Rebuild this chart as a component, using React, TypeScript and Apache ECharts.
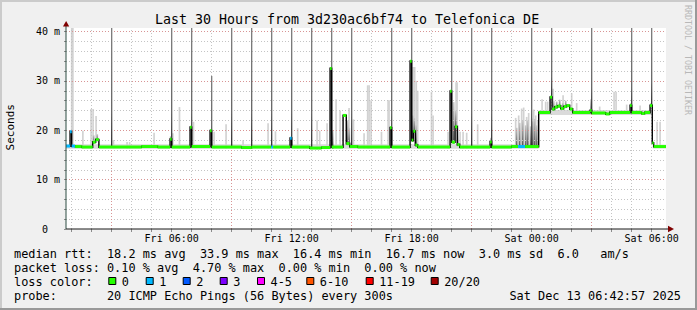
import React, { useEffect, useRef } from "react";
import * as echarts from "echarts";

// ---------- data ----------
const titleText = "Last 30 Hours from 3d230ac6bf74 to Telefonica DE";
const yAxisName = "Seconds";
const watermark = "RRDTOOL / TOBI OETIKER";

// time axis: hours since Fri 00:00 ; window Fri 00:43 .. Sat 06:43
const START_H = 0.716;
const END_H = 30.716;
const STEP_H = 1 / 12; // 300 s probe step
const Y_TOP = 40.71;

const xLabelHours = [6, 12, 18, 24, 30];
const xLabelTexts = ["Fri 06:00", "Fri 12:00", "Fri 18:00", "Sat 00:00", "Sat 06:00"];
const xTickHours = [1, 2, 3, 4, 5, 6, 7, 8, 9, 10, 11, 12, 13, 14, 15, 16, 17, 18, 19, 20, 21, 22, 23, 24, 25, 26, 27, 28, 29, 30];
const majorGridHours = [3, 9, 15, 21, 27];
const minorGridHours = [1, 2, 4, 5, 6, 7, 8, 10, 11, 12, 13, 14, 16, 17, 18, 19, 20, 22, 23, 24, 25, 26, 28, 29, 30];
const yLabelValues = [0, 10, 20, 30, 40];
const yTickValues = [0, 2, 4, 6, 8, 10, 12, 14, 16, 18, 20, 22, 24, 26, 28, 30, 32, 34, 36, 38, 40];
const yMajorGrid = [10, 20, 30, 40];
const yMinorGrid = [2, 4, 6, 8, 12, 14, 16, 18, 22, 24, 26, 28, 32, 34, 36, 38];

// median rtt: [hour from which it applies, ms, lost pings]
const medianSteps: number[][] = [
  [0.716, 16.8, 1], [0.92, 19.7, 1], [1.0, 16.8, 1], [1.17, 16.7, 0], [1.5, 16.6, 0],
  [2.05, 17.6, 0], [2.2, 18.1, 0], [2.36, 16.6, 0], [4.5, 16.7, 0], [5.3, 16.6, 0],
  [5.92, 18.2, 0], [6.0, 16.6, 0], [6.92, 20.6, 0], [7.0, 16.7, 0], [7.92, 19.9, 0],
  [8.0, 16.6, 0], [9.5, 16.5, 0], [10.0, 16.6, 0], [10.98, 16.6, 1], [11.07, 16.6, 0],
  [11.92, 18.4, 1], [12.0, 16.6, 0], [12.9, 16.4, 0], [13.5, 16.5, 0], [13.92, 32.5, 0],
  [14.0, 16.6, 0], [14.57, 23.0, 0], [14.73, 17.3, 0], [14.9, 16.7, 0], [15.3, 16.6, 0],
  [16.92, 20.5, 0], [17.0, 16.6, 0], [17.92, 34.0, 0], [18.0, 18.0, 0], [18.08, 19.8, 0],
  [18.18, 17.0, 0], [18.3, 16.6, 0], [19.92, 27.9, 0], [20.0, 17.6, 0], [20.17, 20.7, 0],
  [20.28, 17.1, 0], [20.4, 16.6, 0], [21.92, 17.6, 0], [22.0, 16.6, 0], [23.0, 16.7, 0],
  [23.32, 16.7, 1], [23.67, 16.7, 0], [24.35, 23.6, 0], [24.92, 26.7, 0], [25.02, 24.3, 0],
  [25.15, 24.7, 0], [25.3, 24.9, 0], [25.45, 24.4, 0], [25.6, 24.8, 0], [25.75, 25.0, 0],
  [25.9, 24.3, 0], [26.05, 23.6, 0], [26.92, 24.0, 0], [27.0, 23.5, 0], [27.7, 23.3, 0],
  [27.9, 23.6, 0], [28.92, 25.0, 0], [29.0, 23.6, 0], [29.5, 23.4, 0], [29.65, 23.6, 0],
  [29.92, 25.0, 0], [30.03, 17.4, 0], [30.1, 16.7, 0],
];

// hourly latency spikes: [hour, highest ping ms]
const hourlySpikes: number[][] = [
  [3, 45], [6, 45], [7, 45], [8, 31], [9, 45], [10, 45], [11, 45], [12, 45], [13, 45],
  [14, 45], [15, 45], [17, 45], [18, 45], [20, 45], [21, 45], [22, 45], [24, 45], [25, 45],
  [27, 45], [29, 45], [30, 45],
];

// faint outer smoke: [hour, ms]
const lightSmoke: number[][] = [
  [1.0, 45], [1.06, 45], [1.56, 19.9], [1.97, 24.3], [2.07, 24.3], [2.22, 22.9], [3.09, 18.0],
  [3.77, 17.6], [3.9, 17.6], [5.12, 19.5], [6.06, 19.4], [6.39, 24.7], [7.09, 21.7], [8.12, 19.7],
  [8.72, 21.2], [9.57, 18.0], [10.82, 21.4], [11.19, 19.8], [12.3, 20.4], [13.27, 22.0],
  [13.4, 19.9], [13.77, 21.4], [14.22, 26.3], [14.42, 24.0], [14.87, 24.5], [15.09, 22.2],
  [15.62, 19.4], [15.8, 29.1], [15.87, 29.1], [15.97, 26.1], [16.49, 19.7], [16.82, 26.1],
  [16.87, 26.1], [18.07, 32.8], [18.15, 32.8], [18.23, 30.0], [18.3, 28.0], [18.99, 27.8],
  [19.07, 23.0], [19.82, 19.7], [19.92, 19.7], [20.22, 29.7], [20.27, 29.7], [20.42, 19.7],
  [20.57, 19.7], [20.75, 19.5], [21.3, 21.2], [23.2, 22.5], [23.35, 23.0], [23.5, 24.4],
  [23.6, 24.6], [23.75, 22.7], [23.85, 23.5], [24.0, 22.4], [24.1, 24.2], [24.2, 23.0],
  [24.3, 22.0], [24.52, 26.3], [24.7, 25.8], [24.8, 25.8], [25.07, 28.4], [25.57, 27.1],
  [26.0, 27.5], [26.25, 25.5], [27.4, 24.8], [28.12, 27.8], [28.22, 27.8], [28.75, 25.2],
  [29.42, 25.0], [30.27, 21.7], [30.42, 21.7],
];

// dense inner smoke: [hour, ms]
const darkSmoke: number[][] = [
  [0.95, 19.5], [2.1, 19.0], [2.28, 19.2], [5.95, 18.8], [6.95, 20.0], [7.95, 19.8],
  [11.95, 18.6], [13.95, 21.0], [14.05, 20.0], [14.65, 21.5], [14.8, 22.0], [14.88, 20.5],
  [16.95, 19.5], [17.97, 25.0], [18.05, 23.0], [18.13, 22.5], [18.22, 21.0], [19.97, 24.0],
  [20.1, 25.7], [20.2, 24.0], [20.3, 21.0], [21.97, 18.5], [23.25, 20.5], [23.4, 21.5],
  [23.55, 22.0], [23.7, 21.0], [23.8, 22.0], [23.95, 20.8], [24.05, 21.8], [24.15, 22.3],
  [24.25, 21.0], [24.97, 26.5], [25.1, 26.0], [25.25, 25.8], [25.4, 26.2], [25.55, 25.5],
  [25.7, 26.0], [25.85, 25.2], [26.97, 26.3], [28.97, 25.5], [29.97, 25.5],
];

// thin smoke band around the median: [hour from, low ms, high ms]
const smokeFloor: number[][] = [
  [0.716, 16.25, 17.15], [24.35, 23.1, 24.1], [30.05, 16.3, 17.1],
];

const rttLegend = ["median rtt:", "18.2 ms avg", "33.9 ms max", "16.4 ms min", "16.7 ms now", "3.0 ms sd", "6.0", "am/s"];
const rttCols = [0, 13, 26, 39, 52, 65, 76, 82];
const lossLegend = ["packet loss:", "0.10 % avg", "4.70 % max", "0.00 % min", "0.00 % now"];
const lossCols = [0, 13, 25, 37, 49];
const lossColorTitle = "loss color:";
const lossColorLabels = ["0", "1", "2", "3", "4-5", "6-10", "11-19", "20/20"];
const lossColors = ["#26ff00", "#00b8ff", "#0059ff", "#7e00ff", "#ff00ff", "#ff5500", "#ff0000", "#a10000"];
const probeTitle = "probe:";
const probeText = "20 ICMP Echo Pings (56 Bytes) every 300s";
const dateText = "Sat Dec 13 06:42:57 2025";

// ---------- helpers ----------
function medianAt(h: number): number {
  let v = medianSteps[0][1];
  for (const s of medianSteps) {
    if (s[0] <= h + 1e-9) v = s[1];
    else break;
  }
  return v;
}
function lossColorFor(n: number): string {
  if (n <= 0) return lossColors[0];
  if (n <= 3) return lossColors[n];
  if (n <= 5) return lossColors[4];
  if (n <= 10) return lossColors[5];
  if (n <= 19) return lossColors[6];
  return lossColors[7];
}

const FONT = '"DejaVu Sans Mono", monospace';
const LEG_X0 = 14;
const CW = 7.15;
const boxX = [108.3, 145.7, 182.7, 219.7, 257, 306.3, 365.7, 430.7];
const rowY = [254.3, 268.3, 282.3, 296.3];

export default function App() {
  const ref = useRef<HTMLDivElement>(null);
  useEffect(() => {
    const chart = echarts.init(ref.current as HTMLDivElement, null, { renderer: "svg" });

    const medianData = medianSteps.map((s, i) => {
      const next = i + 1 < medianSteps.length ? medianSteps[i + 1][0] : END_H;
      const prev = i > 0 ? medianSteps[i - 1][1] : s[1];
      return [s[0], next, s[1], prev, s[2]];
    });
    const floorData = smokeFloor.map((s, i) => {
      const next = i + 1 < smokeFloor.length ? smokeFloor[i + 1][0] : END_H;
      return [s[0], next, s[1], s[2]];
    });

    const minorStyle = { color: "#c4c4c4", width: 1, type: [1, 2] };
    const majorStyle = { color: "#d89494", width: 1, type: [1, 2] };
    const gridLineData: any[] = [
      ...minorGridHours.map((h) => ({ xAxis: h, lineStyle: minorStyle })),
      ...yMinorGrid.map((v) => ({ yAxis: v, lineStyle: minorStyle })),
      ...majorGridHours.map((h) => ({ xAxis: h, lineStyle: majorStyle })),
      ...yMajorGrid.map((v) => ({ yAxis: v, lineStyle: majorStyle })),
    ];

    const hairRender = (fill: any) => (params: any, api: any) => {
      const h = api.value(0);
      const top = Math.min(api.value(1), Y_TOP);
      const x0 = api.coord([h - STEP_H / 2, 0])[0];
      const x1 = api.coord([h + STEP_H / 2, 0])[0];
      const yT = api.coord([h, top])[1];
      const yB = api.coord([h, medianAt(h) - 0.3])[1];
      return {
        type: "rect",
        shape: { x: x0, y: yT, width: x1 - x0, height: Math.max(0, yB - yT) },
        style: { fill: typeof fill === "function" ? fill() : fill },
      };
    };

    const texts: any[] = [];
    const addText = (text: string, x: number, y: number, size: number, extra: any = {}) => {
      texts.push({
        type: "text",
        x,
        y,
        z: 100,
        rotation: extra.rotation || 0,
        style: {
          text,
          font: `${size}px ${FONT}`,
          fill: extra.fill || "#000",
          align: extra.align || "left",
          verticalAlign: "middle",
          textAlign: extra.align || "left",
          textVerticalAlign: "middle",
        },
      });
    };
    addText(titleText, 347, 19.5, 13.3, { align: "center" });
    addText(yAxisName, 10.5, 127.3, 11, { align: "center", rotation: Math.PI / 2 });
    addText(watermark, 688, 60, 8.3, { align: "center", rotation: -Math.PI / 2, fill: "#b8b8b8" });
    rttLegend.forEach((t, i) => addText(t, LEG_X0 + rttCols[i] * CW, rowY[0], 11.88));
    lossLegend.forEach((t, i) => addText(t, LEG_X0 + lossCols[i] * CW, rowY[1], 11.88));
    addText(lossColorTitle, LEG_X0, rowY[2], 11.88);
    lossColorLabels.forEach((t, i) => addText(t, boxX[i] + 13.5, rowY[2], 11.88));
    addText(probeTitle, LEG_X0, rowY[3], 11.88);
    addText(probeText, LEG_X0 + 13 * CW, rowY[3], 11.88);
    addText(dateText, 681, rowY[3], 11.88, { align: "right" });

    const boxes = lossColors.map((c, i) => ({
      type: "rect",
      z: 100,
      shape: { x: boxX[i] + 0.5, y: 277.5, width: 7, height: 7 },
      style: { fill: c, stroke: "#000", lineWidth: 1 },
    }));

    const frame = [
      { type: "rect", z: 100, shape: { x: 0, y: 0, width: 697, height: 2 }, style: { fill: "#cbcbcb" } },
      { type: "rect", z: 100, shape: { x: 0, y: 0, width: 2, height: 310 }, style: { fill: "#cbcbcb" } },
      { type: "rect", z: 100, shape: { x: 0, y: 308, width: 697, height: 2 }, style: { fill: "#999999" } },
      { type: "rect", z: 100, shape: { x: 695, y: 0, width: 2, height: 310 }, style: { fill: "#999999" } },
    ];
    const axes = [
      { type: "line", z: 100, shape: { x1: 66, y1: 229, x2: 66, y2: 24 }, style: { stroke: "#2c4d43", lineWidth: 1 } },
      { type: "polygon", z: 100, shape: { points: [[63, 26.5], [69.2, 26.5], [66.1, 21]] }, style: { fill: "#7f0000" } },
      { type: "line", z: 100, shape: { x1: 66, y1: 229, x2: 669, y2: 229 }, style: { stroke: "#1a1a1a", lineWidth: 1.2 } },
      { type: "polygon", z: 100, shape: { points: [[668, 225.8], [668, 232.2], [674, 229]] }, style: { fill: "#7f0000" } },
    ];

    const option: any = {
      animation: false,
      backgroundColor: "#f0f0f0",
      grid: { left: 66, top: 28, width: 600, height: 201, show: true, backgroundColor: "#ffffff", borderWidth: 0 },
      xAxis: {
        type: "value",
        min: START_H,
        max: END_H,
        axisLine: { show: false },
        splitLine: { show: false },
        axisTick: { show: true, customValues: xTickHours, length: 3, lineStyle: { color: "#8c8c8c" } },
        axisLabel: {
          show: true,
          customValues: xLabelHours,
          formatter: (v: number) => {
            const i = xLabelHours.indexOf(Math.round(v));
            return i >= 0 ? xLabelTexts[i] : "";
          },
          fontFamily: FONT,
          fontSize: 10,
          color: "#000",
          margin: 4,
        },
      },
      yAxis: {
        type: "value",
        min: 0,
        max: Y_TOP,
        axisLine: { show: false },
        splitLine: { show: false },
        axisTick: { show: true, customValues: yTickValues, length: 2, lineStyle: { color: "#8c8c8c" } },
        axisLabel: {
          show: true,
          customValues: yLabelValues,
          formatter: (v: number) => (v === 0 ? "{z|0}" : `${v} m`),
          rich: { z: { padding: [0, 12, 0, 0], fontFamily: FONT, fontSize: 10, color: "#000" } },
          fontFamily: FONT,
          fontSize: 10,
          color: "#000",
          margin: 6,
        },
      },
      series: [
        {
          type: "line",
          z: 1,
          silent: true,
          data: [],
          markLine: { silent: true, symbol: ["none", "none"], label: { show: false }, emphasis: { disabled: true }, data: gridLineData },
        },
        {
          type: "custom",
          z: 2,
          silent: true,
          clip: true,
          data: floorData,
          encode: { x: [0, 1], y: [2, 3] },
          renderItem: (params: any, api: any) => {
            const a = api.coord([api.value(0), api.value(3)]);
            const b = api.coord([api.value(1), api.value(2)]);
            return { type: "rect", shape: { x: a[0], y: a[1], width: b[0] - a[0], height: b[1] - a[1] }, style: { fill: "#dadada" } };
          },
        },
        {
          type: "custom",
          z: 3,
          silent: true,
          clip: true,
          data: lightSmoke,
          encode: { x: 0, y: 1 },
          renderItem: hairRender("#d2d2d2"),
        },
        {
          type: "custom",
          z: 4,
          silent: true,
          clip: true,
          data: darkSmoke,
          encode: { x: 0, y: 1 },
          renderItem: hairRender(
            () =>
              new echarts.graphic.LinearGradient(0, 0, 0, 1, [
                { offset: 0, color: "#c8c8c8" },
                { offset: 0.5, color: "#8e8e8e" },
                { offset: 1, color: "#4a4a4a" },
              ])
          ),
        },
        {
          type: "custom",
          z: 5,
          silent: true,
          clip: true,
          data: hourlySpikes,
          encode: { x: 0, y: 1 },
          renderItem: (params: any, api: any) => {
            const h = api.value(0);
            const top = Math.min(api.value(1), Y_TOP);
            const xm = api.coord([h, 0])[0];
            const yT = api.coord([h, top])[1];
            const yB = api.coord([h, medianAt(h)])[1];
            return {
              type: "rect",
              shape: { x: xm - 0.65, y: yT, width: 1.3, height: Math.max(0, yB - yT) },
              style: {
                fill: new echarts.graphic.LinearGradient(0, 0, 0, 1, [
                  { offset: 0, color: "#7c7c7c" },
                  { offset: 0.7, color: "#646464" },
                  { offset: 1, color: "#2a2a2a" },
                ]),
              },
            };
          },
        },
        {
          type: "custom",
          z: 6,
          silent: true,
          clip: true,
          data: medianData,
          encode: { x: [0, 1], y: [2, 3] },
          renderItem: (params: any, api: any) => {
            const h0 = api.value(0);
            const v = api.value(2);
            const pv = api.value(3);
            if (Math.abs(v - pv) < 0.05) return null;
            const a = api.coord([h0, v]);
            const b = api.coord([h0, pv]);
            return {
              type: "rect",
              shape: { x: a[0] - 0.7, y: Math.min(a[1], b[1]) - 1, width: 1.4, height: Math.abs(a[1] - b[1]) + 2 },
              style: { fill: "#000" },
            };
          },
        },
        {
          type: "custom",
          z: 7,
          silent: true,
          clip: true,
          data: medianData,
          encode: { x: [0, 1], y: [2, 3] },
          renderItem: (params: any, api: any) => {
            const a = api.coord([api.value(0), api.value(2)]);
            const b = api.coord([api.value(1), api.value(2)]);
            return {
              type: "rect",
              shape: { x: a[0], y: a[1] - 1.5, width: b[0] - a[0], height: 3 },
              style: { fill: lossColorFor(api.value(4)) },
            };
          },
        },
      ],
      graphic: { elements: [...frame, ...axes, ...boxes, ...texts] },
    };
    chart.setOption(option);
    return () => chart.dispose();
  }, []);
  return <div ref={ref} style={{ position: "fixed", left: 0, top: 0, width: 697, height: 310 }} />;
}
